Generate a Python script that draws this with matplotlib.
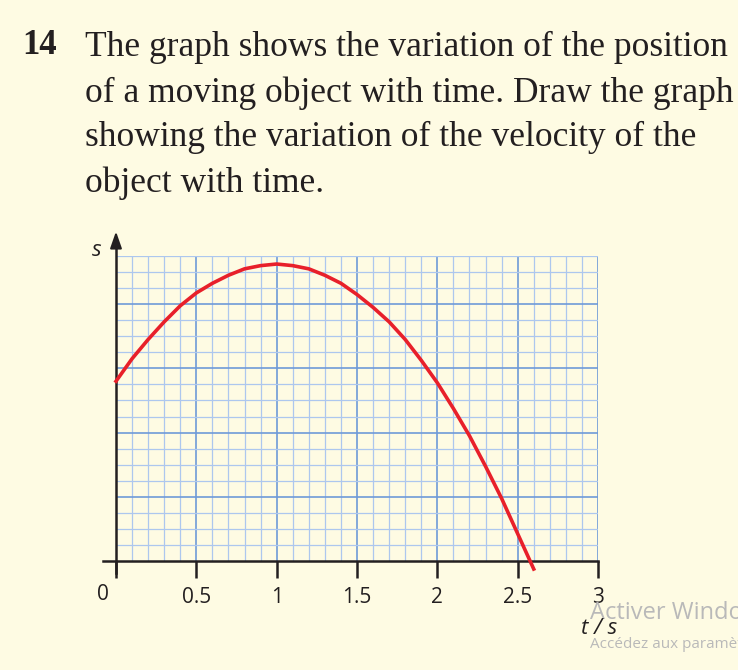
import matplotlib.pyplot as plt
import numpy as np

# position-time curve (s in small grid squares)
t_vals = [0.0, 0.1, 0.2, 0.3, 0.4, 0.5, 0.6, 0.7, 0.8, 0.9, 1.0, 1.1, 1.2, 1.3,
          1.4, 1.5, 1.6, 1.7, 1.8, 1.9, 2.0, 2.1, 2.2, 2.3, 2.4, 2.5, 2.6]
s_vals = [11.2, 12.6, 13.8, 14.9, 15.9, 16.7, 17.3, 17.8, 18.2, 18.4, 18.5, 18.4,
          18.2, 17.8, 17.3, 16.6, 15.8, 14.9, 13.8, 12.5, 11.1, 9.5, 7.8, 5.9,
          3.9, 1.7, -0.5]
x_ticks = [0, 0.5, 1, 1.5, 2, 2.5, 3]
x_labels = ["", "0.5", "1", "1.5", "2", "2.5", "3"]

question = ("The graph shows the variation of the position\n"
            "of a moving object with time. Draw the graph\n"
            "showing the variation of the velocity of the\n"
            "object with time.")

bg = "#fefbe3"
ink = "#231f20"
fig = plt.figure(figsize=(7.38, 6.7), dpi=100, facecolor=bg)
ax = fig.add_axes([116 / 738, 1 - 561 / 670, 482 / 738, 305 / 670])
ax.set_facecolor(bg)
ax.set_xlim(0, 3)
ax.set_ylim(0, 19)

# graph paper
for x in np.arange(0.1, 3.01, 0.1):
    major = abs(x * 2 - round(x * 2)) < 1e-6
    ax.axvline(x, color="#6f9ad8" if major else "#adc7ee",
               lw=1.2 if major else 0.9, zorder=1)
for y in range(1, 20):
    major = y % 4 == 0
    ax.axhline(y, color="#6f9ad8" if major else "#adc7ee",
               lw=1.2 if major else 0.9, zorder=1)

for sp in ax.spines.values():
    sp.set_visible(False)

# axes lines
ax.plot([-0.08, 3], [0, 0], color=ink, lw=1.8, clip_on=False, zorder=3)
ax.plot([0, 0], [-0.75, 19.6], color=ink, lw=1.8, clip_on=False, zorder=3)
ax.annotate("", xy=(0, 20.7), xytext=(0, 19.4),
            arrowprops=dict(arrowstyle="-|>,head_width=0.35,head_length=1.0",
                            color=ink, lw=1.5), annotation_clip=False)

ax.plot(t_vals, s_vals, color="#e8202a", lw=2.6, clip_on=False, zorder=4)

ax.set_xticks(x_ticks)
ax.set_xticklabels(x_labels, fontsize=15, family="Open Sans", color=ink)
ax.set_yticks([])
ax.tick_params(axis="x", direction="out", length=12, width=1.8,
               color=ink, pad=7)
fig.text(103 / 738, 1 - 595 / 670, "0", fontsize=15, family="Open Sans",
         ha="center", va="center", color=ink)

fig.text(97 / 738, 1 - 250 / 670, "s", fontsize=16, style="italic",
         family="Open Sans", ha="center", va="center", color=ink)
fig.text(599 / 738, 1 - 629 / 670, "t / s", fontsize=16, style="italic",
         family="Open Sans", ha="center", va="center", color=ink)

# question text
fig.text(22 / 738, 1 - 46 / 670, "14", fontsize=25, weight="bold",
         family="Liberation Serif", va="center", color=ink)
fig.text(85 / 738, 1 - 31 / 670, question, fontsize=25.5,
         family="Liberation Serif", va="top", linespacing=1.47,
         color=ink)

# windows watermark
fig.text(590 / 738, 1 - 613 / 670, "Activer Windows", fontsize=17,
         family="Open Sans", color="#b9b9b9", va="center", zorder=0)
fig.text(590 / 738, 1 - 644 / 670, "Accédez aux paramètres", fontsize=11,
         family="Open Sans", color="#b9b9b9", va="center", zorder=0)

fig.savefig("out.png", dpi=100, facecolor=bg)
